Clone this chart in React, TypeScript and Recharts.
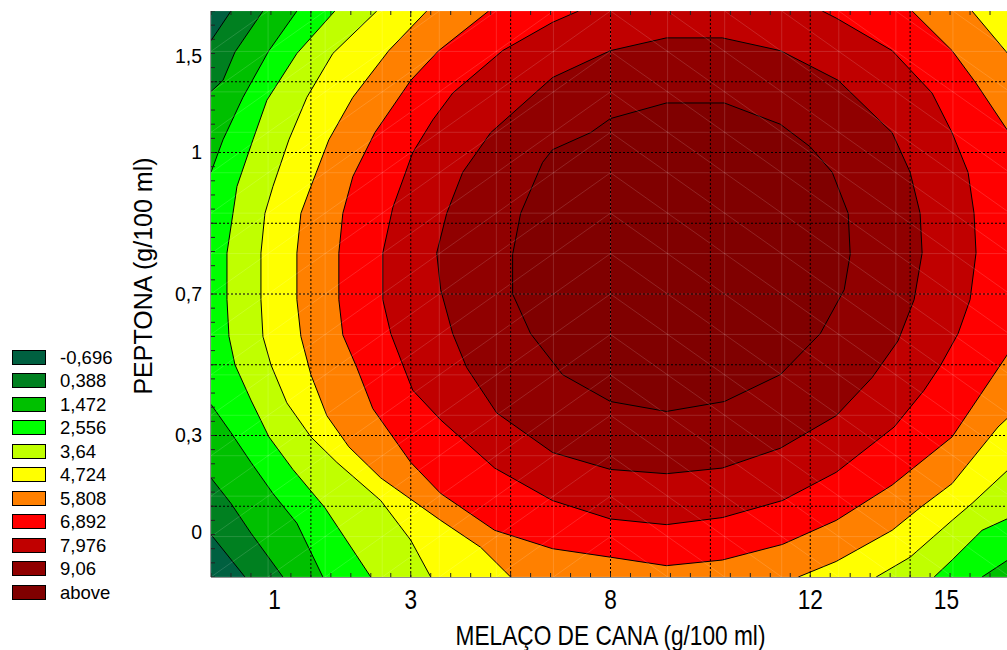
import React from "react";
import { ScatterChart, Scatter, XAxis, YAxis, Label } from "recharts";

// axes are in coded units of the design (-α, -1, 0, +1, +α)
const X_TICKS = [-1.682, -1, 0, 1, 1.682];
const X_TICK_LABELS = ["1", "3", "8", "12", "15"];
const Y_TICKS = [-1.682, -1, 0, 1, 1.682];
const Y_TICK_LABELS = ["0", "0,3", "0,7", "1", "1,5"];
const GRID_VALUES = [-1.5, -1, -0.5, 0, 0.5, 1, 1.5];

const LEVEL_LABELS = ["-0,696", "0,388", "1,472", "2,556", "3,64", "4,724", "5,808", "6,892", "7,976", "9,06", "above"];
const LEVEL_COLORS = [
  "#006040", "#008020", "#00c000", "#00ff00", "#c0ff00", "#ffff00",
  "#ff8000", "#ff0000", "#c00000", "#900000", "#800000",
];

// contour outlines; points past ±2 only close the shape outside the frame
const BACKGROUND = [[-2.6, -2.6], [2.6, -2.6], [2.6, 2.6], [-2.6, 2.6]];
const C_M0696 = [
  [-1.9, 2.0], [-2.0, 1.79], [-2.6, 1.79], [-2.6, -1.7], [-2.0, -1.7], [-1.83, -2.0],
  [-1.83, -2.6], [2.6, -2.6], [2.6, 2.6], [-1.9, 2.6],
];
const C_0388 = [
  [-1.74, 2.0], [-1.88, 1.71], [-1.94, 1.51], [-2.0, 1.43], [-2.6, 1.43], [-2.6, -1.3],
  [-2.0, -1.3], [-1.9, -1.48], [-1.8, -1.69], [-1.64, -2.0], [-1.64, -2.6], [2.6, -2.6],
  [2.6, 2.6], [-1.74, 2.6],
];
const C_1472 = [
  [-1.57, 2.0], [-1.71, 1.72], [-1.84, 1.39], [-1.94, 1.09], [-2.0, 0.86], [-2.6, 0.86],
  [-2.6, -0.78], [-2.0, -0.78], [-1.9, -0.98], [-1.8, -1.19], [-1.69, -1.41], [-1.57, -1.62],
  [-1.44, -2.0], [-1.44, -2.6], [1.86, -2.6], [1.86, -2.0], [2.0, -1.87], [2.6, -1.87],
  [2.6, 2.6], [-1.57, 2.6],
];
const C_2556 = [
  [-1.38, 2.0], [-1.57, 1.7], [-1.72, 1.37], [-1.79, 1.09], [-1.87, 0.76], [-1.89, 0.57],
  [-1.92, 0.29], [-1.92, -0.04], [-1.91, -0.3], [-1.88, -0.5], [-1.8, -0.75], [-1.71, -1.01],
  [-1.59, -1.24], [-1.43, -1.51], [-1.2, -2.0], [-1.2, -2.6], [1.62, -2.6], [1.62, -2.0],
  [1.71, -1.88], [1.86, -1.67], [2.0, -1.58], [2.6, -1.58], [2.6, 2.6], [-1.38, 2.6],
];
const C_364 = [
  [-1.17, 2.0], [-1.39, 1.7], [-1.52, 1.39], [-1.61, 1.09], [-1.69, 0.76], [-1.73, 0.57],
  [-1.75, 0.29], [-1.75, -0.04], [-1.74, -0.3], [-1.7, -0.5], [-1.62, -0.77], [-1.5, -1.01],
  [-1.37, -1.19], [-1.15, -1.46], [-1.0, -1.74], [-0.9, -2.0], [-0.9, -2.6], [1.33, -2.6],
  [1.33, -2.0], [1.5, -1.86], [1.71, -1.6], [1.81, -1.48], [2.0, -1.23], [2.6, -1.23],
  [2.6, 2.6], [-1.17, 2.6],
];
const C_4724 = [
  [-0.92, 2.0], [-1.11, 1.72], [-1.29, 1.39], [-1.41, 1.09], [-1.5, 0.76], [-1.55, 0.57],
  [-1.57, 0.29], [-1.57, -0.04], [-1.55, -0.3], [-1.5, -0.57], [-1.42, -0.86], [-1.31, -1.08],
  [-1.15, -1.3], [-0.85, -1.6], [-0.65, -1.79], [-0.5, -2.0], [-0.5, -2.6], [0.94, -2.6],
  [0.94, -2.0], [1.13, -1.89], [1.41, -1.67], [1.55, -1.51], [1.71, -1.34], [1.94, -0.94],
  [2.0, -0.86], [2.6, -0.86], [2.6, 1.68], [2.0, 1.68], [1.81, 2.0], [1.81, 2.6], [-0.92, 2.6],
];
const C_5808 = [
  [-0.61, 2.0], [-0.86, 1.72], [-1.0, 1.51], [-1.18, 1.14], [-1.29, 0.83], [-1.34, 0.57],
  [-1.36, 0.29], [-1.36, -0.04], [-1.34, -0.29], [-1.27, -0.52], [-1.19, -0.81], [-1.0, -1.19],
  [-0.85, -1.41], [-0.58, -1.67], [-0.29, -1.8], [0.0, -1.86], [0.28, -1.92], [0.56, -1.88],
  [0.86, -1.77], [1.13, -1.6], [1.41, -1.35], [1.71, -1.01], [1.91, -0.59], [2.0, -0.4],
  [2.6, -0.4], [2.6, 1.13], [2.0, 1.13], [1.83, 1.49], [1.71, 1.72], [1.51, 2.0],
  [1.51, 2.6], [-0.61, 2.6],
];
const C_6892 = [
  [-0.16, 2.0], [-0.29, 1.92], [-0.54, 1.72], [-0.79, 1.42], [-0.89, 1.23], [-0.99, 1.0],
  [-1.09, 0.61], [-1.14, 0.29], [-1.14, -0.04], [-1.1, -0.28], [-1.04, -0.5], [-0.99, -0.68],
  [-0.85, -0.89], [-0.58, -1.23], [-0.29, -1.46], [0.0, -1.59], [0.28, -1.63], [0.56, -1.58],
  [0.86, -1.46], [1.13, -1.26], [1.42, -0.94], [1.57, -0.68], [1.65, -0.51], [1.74, -0.28],
  [1.8, -0.04], [1.83, 0.29], [1.82, 0.57], [1.79, 0.86], [1.71, 1.14], [1.61, 1.42],
  [1.41, 1.72], [1.13, 1.95], [1.06, 2.0], [1.06, 2.6], [-0.16, 2.6],
];
const C_7976 = [
  [0.0, 1.72], [0.28, 1.81], [0.56, 1.81], [0.85, 1.72], [1.14, 1.51], [1.41, 1.14],
  [1.5, 0.86], [1.55, 0.57], [1.56, 0.29], [1.52, -0.04], [1.44, -0.33], [1.31, -0.59],
  [1.13, -0.86], [0.85, -1.09], [0.56, -1.23], [0.28, -1.27], [0.0, -1.24], [-0.29, -1.12],
  [-0.57, -0.84], [-0.72, -0.52], [-0.79, -0.28], [-0.85, 0.03], [-0.87, 0.29], [-0.82, 0.57],
  [-0.74, 0.86], [-0.6, 1.14], [-0.29, 1.53],
];
const C_906 = [
  [0.0, 1.24], [0.28, 1.35], [0.57, 1.35], [0.85, 1.2], [1.0, 1.04], [1.11, 0.86],
  [1.19, 0.57], [1.2, 0.28], [1.17, 0.03], [1.05, -0.28], [0.85, -0.57], [0.57, -0.76],
  [0.28, -0.83], [0.0, -0.76], [-0.24, -0.57], [-0.4, -0.28], [-0.49, 0.0], [-0.49, 0.28],
  [-0.45, 0.57], [-0.34, 0.93], [-0.29, 1.02], [-0.1, 1.14],
];

const CONTOURS = [BACKGROUND, C_M0696, C_0388, C_1472, C_2556, C_364, C_4724, C_5808, C_6892, C_7976, C_906];

type Pt = { x: number; y: number };
const toPts = (arr: number[][]): Pt[] => arr.map(([x, y]) => ({ x, y }));

// dotted reference grid as pairs of end points
const gridSegments: Pt[] = [
  ...GRID_VALUES.flatMap((x) => [{ x, y: -2 }, { x, y: 2 }]),
  ...GRID_VALUES.flatMap((y) => [{ x: -2, y }, { x: 2, y }]),
];

// faint triangulation mesh the contour program leaves behind
const MESH_N = 14;
const meshSegments: Pt[] = [];
const step = 4 / MESH_N;
for (let k = 0; k <= MESH_N; k++) {
  const v = -2 + k * step;
  meshSegments.push({ x: v, y: -2 }, { x: v, y: 2 }, { x: -2, y: v }, { x: 2, y: v });
}
for (let k = -MESH_N; k <= 2 * MESH_N; k++) {
  const c = k * step;
  const lo1 = Math.max(-2, -2 - c), hi1 = Math.min(0, 2 - c);
  if (hi1 - lo1 > 1e-6) meshSegments.push({ x: lo1, y: lo1 + c }, { x: hi1, y: hi1 + c });
  const lo2 = Math.max(0, c - 2), hi2 = Math.min(2, c + 2);
  if (hi2 - lo2 > 1e-6) meshSegments.push({ x: lo2, y: c - lo2 }, { x: hi2, y: c - hi2 });
}

const MINOR = Array.from({ length: 41 }, (_, i) => Math.round((-2 + i * 0.1) * 10) / 10);
const bottomTicks = MINOR.map((x) => ({ x, y: -2 }));
const topTicks = MINOR.map((x) => ({ x, y: 2 }));
const leftTicks = MINOR.map((y) => ({ x: -2, y }));

const noShape = () => <g />;

const polygonLine = (fill: string, stroke: string) => (props: any) => {
  const pts: { x: number; y: number }[] = props.points || [];
  const d = pts.map((p, i) => `${i ? "L" : "M"}${p.x},${p.y}`).join("") + "Z";
  return <path d={d} fill={fill} stroke={stroke} strokeWidth={1} strokeLinejoin="round" />;
};

const segmentLine = (stroke: string, dash?: string, opacity = 1) => (props: any) => {
  const pts: { x: number; y: number }[] = props.points || [];
  let d = "";
  for (let i = 0; i + 1 < pts.length; i += 2) d += `M${pts[i].x},${pts[i].y}L${pts[i + 1].x},${pts[i + 1].y}`;
  return <path d={d} fill="none" stroke={stroke} strokeOpacity={opacity} strokeWidth={1} strokeDasharray={dash} />;
};

const tickShape = (dx: number, dy: number) => (p: any) => (
  <line x1={p.cx} y1={p.cy} x2={p.cx + dx} y2={p.cy + dy} stroke="#222" strokeWidth={1} />
);

const FONT = '"Liberation Sans", Arial, sans-serif';
const X_FONT_SIZE = 27;
const X_SQUEEZE = 0.84; // the x axis text is set in a narrow face

const XTick = (props: any) => {
  const { x, y, payload } = props;
  const label = X_TICK_LABELS[X_TICKS.indexOf(payload.value)] ?? "";
  return (
    <text transform={`translate(${x},${y}) scale(${X_SQUEEZE},1)`} x={0} y={0} dy="0.71em" textAnchor="middle"
      fontFamily={FONT} fontSize={X_FONT_SIZE} fill="#000">
      {label}
    </text>
  );
};

const XTitle = (props: any) => {
  const vb = props.viewBox || { x: 211, y: 577, width: 799, height: 73 };
  const x = vb.x + vb.width / 2;
  const y = vb.y + 68;
  return (
    <text transform={`translate(${x},${y}) scale(${X_SQUEEZE},1)`} x={0} y={0} textAnchor="middle"
      fontFamily={FONT} fontSize={X_FONT_SIZE} fill="#000">
      MELAÇO DE CANA (g/100 ml)
    </text>
  );
};

const YTitle = (props: any) => {
  const vb = props.viewBox || { x: 0, y: 11, width: 211, height: 566 };
  const x = vb.x + 143;
  const y = vb.y + vb.height / 2 - 18;
  return (
    <text x={x} y={y} transform={`rotate(-90 ${x} ${y})`} textAnchor="middle" dominantBaseline="central"
      fontFamily={FONT} fontSize={25} fill="#000">
      PEPTONA (g/100 ml)
    </text>
  );
};

export default function App() {
  return (
    <div style={{ position: "fixed", left: 0, top: 0, width: 1007, height: 650, overflow: "hidden", background: "#fff" }}>
      <ScatterChart width={1020} height={650} margin={{ top: 11, right: 10, bottom: 0, left: 0 }}>
        <XAxis
          type="number"
          dataKey="x"
          domain={[-2, 2]}
          allowDataOverflow
          ticks={X_TICKS}
          interval={0}
          height={73}
          tickLine={false}
          tickSize={0}
          tickMargin={13}
          axisLine={{ stroke: "#222" }}
          tick={<XTick />}
        >
          <Label content={XTitle} />
        </XAxis>
        <XAxis xAxisId="top" orientation="top" type="number" domain={[-2, 2]} allowDataOverflow
          height={0} tick={false} tickLine={false} axisLine={{ stroke: "#222" }} />
        <YAxis
          type="number"
          dataKey="y"
          domain={[-2, 2]}
          allowDataOverflow
          ticks={Y_TICKS}
          interval={0}
          tickFormatter={(v: number) => Y_TICK_LABELS[Y_TICKS.indexOf(v)] ?? ""}
          width={211}
          tickLine={false}
          tickSize={0}
          tickMargin={9}
          axisLine={{ stroke: "#222" }}
          tick={{ fontFamily: FONT, fontSize: 19.5, fill: "#000" }}
        >
          <Label content={YTitle} />
        </YAxis>

        {CONTOURS.map((c, i) => (
          <Scatter
            key={`c${i}`}
            data={toPts(c)}
            shape={noShape}
            line={polygonLine(LEVEL_COLORS[i], i === 0 ? "none" : "#000")}
            isAnimationActive={false}
          />
        ))}
        <Scatter data={meshSegments} shape={noShape} line={segmentLine("#ffffff", undefined, 0.14)} isAnimationActive={false} />
        <Scatter data={gridSegments} shape={noShape} line={segmentLine("#000", "2 2")} isAnimationActive={false} />
        <Scatter data={bottomTicks} shape={tickShape(0, -4)} isAnimationActive={false} />
        <Scatter data={topTicks} shape={tickShape(0, 4)} isAnimationActive={false} />
        <Scatter data={leftTicks} shape={tickShape(4, 0)} isAnimationActive={false} />
      </ScatterChart>

      <div style={{ position: "absolute", left: 12, top: 345.5, fontFamily: FONT, fontSize: 18.5, color: "#000" }}>
        {LEVEL_LABELS.map((lab, i) => (
          <div key={lab} style={{ display: "flex", alignItems: "center", height: 23.5 }}>
            <div style={{ width: 34, height: 15, boxSizing: "border-box", border: "1px solid #000", background: LEVEL_COLORS[i] }} />
            <span style={{ marginLeft: 14, lineHeight: "23.5px" }}>{lab}</span>
          </div>
        ))}
      </div>
    </div>
  );
}
